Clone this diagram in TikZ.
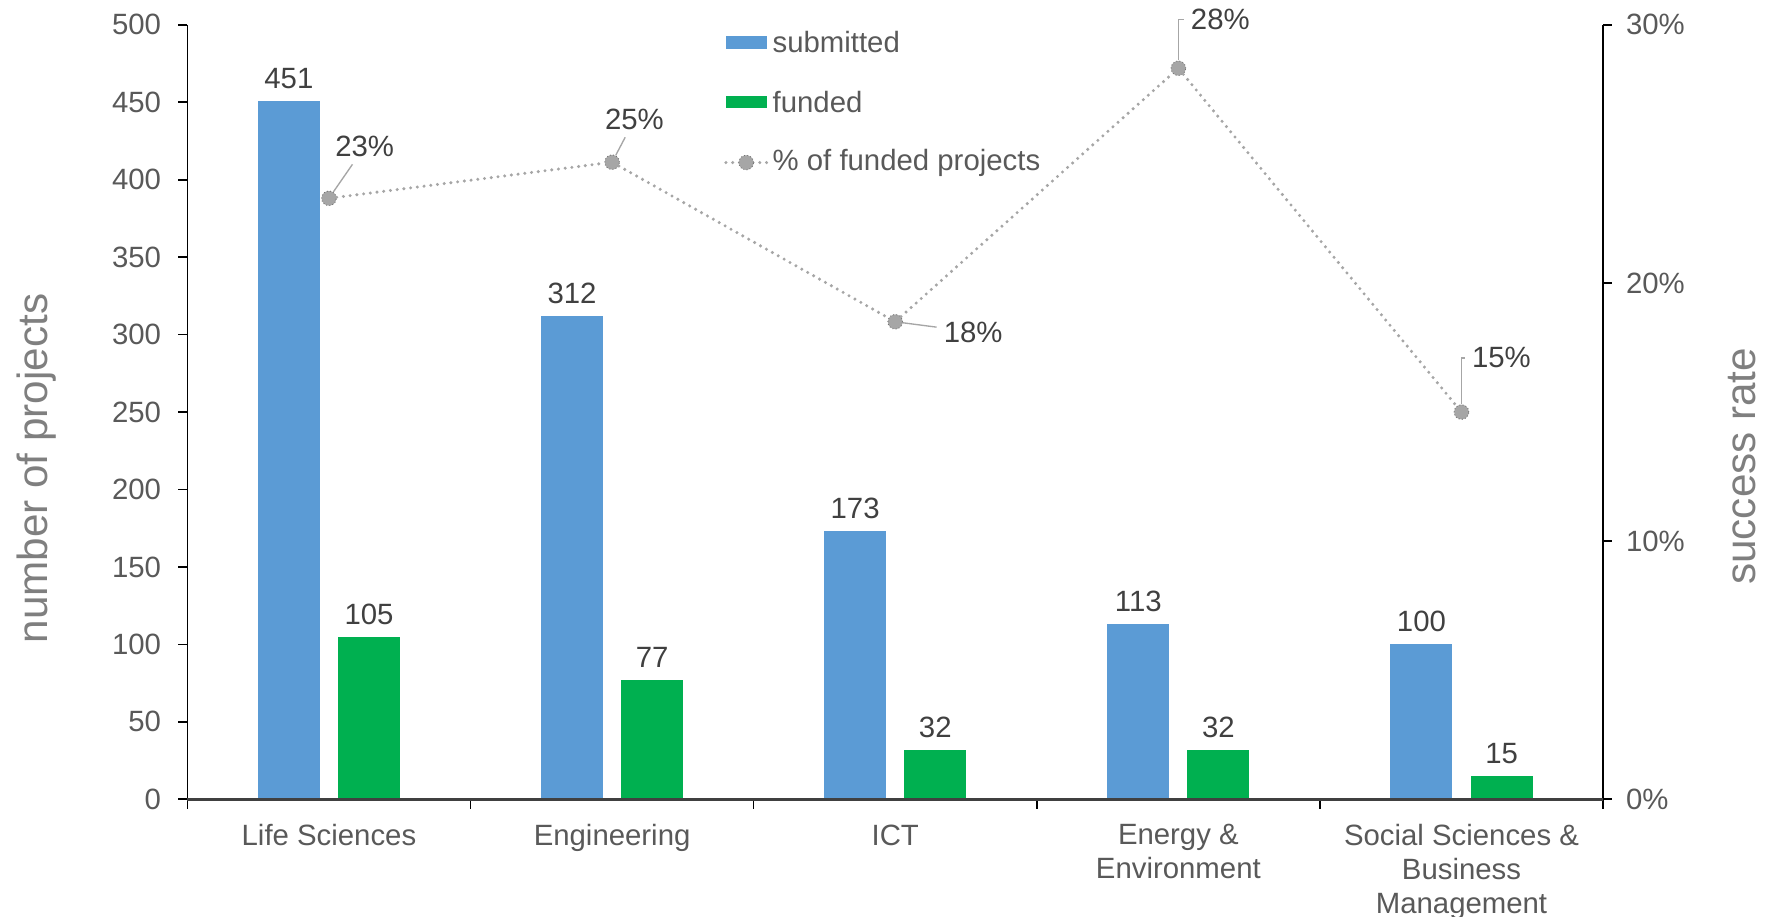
\documentclass[tikz,border=0pt]{standalone}
\usepackage{fontspec}
\setmainfont{Liberation Sans}
\usetikzlibrary{positioning,calc}
\definecolor{subblue}{HTML}{5B9BD5}
\definecolor{fundgreen}{HTML}{00B050}
\definecolor{ticktext}{HTML}{595959}
\definecolor{valtext}{HTML}{404040}
\definecolor{titletext}{HTML}{7F7F7F}
\definecolor{rategray}{HTML}{A6A6A6}

\begin{document}
\begin{tikzpicture}[x=0.5pt,y=-0.5pt,
    lbl/.style={font=\fontsize{13}{15}\selectfont,text=ticktext,inner sep=0pt},
    val/.style={lbl,text=valtext},
    ttl/.style={font=\fontsize{18.7}{22}\selectfont,text=titletext,inner sep=0pt,rotate=90},
    ratept/.style={circle,fill=rategray,draw=black!55,densely dotted,line width=0.4pt,minimum size=6.5pt,inner sep=0pt},
    rateline/.style={draw=rategray,line width=1.5pt,line cap=round,dash pattern=on 0pt off 3pt},
    leader/.style={draw=rategray,line width=0.6pt},
    swatch/.style={minimum width=18pt,minimum height=5.5pt,inner sep=0pt}]
    \useasboundingbox (0,0) rectangle (1567,812);

    % axes
    \draw[line width=0.7pt] (166,22) -- (166,708);
    \draw[line width=0.7pt] (1420,22) -- (1420,708);
    \foreach \v in {0,50,...,500}{
        \draw[line width=0.7pt] (158,{708-1.372*\v}) -- (166,{708-1.372*\v});
        \node[lbl,anchor=east] (yl\v) at (143,{708-1.372*\v}) {\v};
    }
    \foreach \r in {0,10,20,30}{
        \draw[line width=0.7pt] (1420,{708-22.867*\r}) -- (1428,{708-22.867*\r});
        \node[lbl,anchor=west] (rl\r) at (1440,{708-22.867*\r}) {\r\%};
    }
    \foreach \k in {0,...,5}{
        \draw[line width=0.7pt] ({166+250.8*\k},708) -- ({166+250.8*\k},717);
    }

    % bars
    \foreach \i/\s/\f/\catname in {1/451/105/Life Sciences,
        2/312/77/Engineering,
        3/173/32/ICT,
        4/113/32/{Energy \&\\Environment},
        5/100/15/{Social Sciences \&\\Business\\Management}}{
        \pgfmathsetmacro\c{166+250.8*(\i-0.5)}
        \pgfmathsetmacro\hs{708-1.372*\s}
        \pgfmathsetmacro\hf{708-1.372*\f}
        \pgfmathsetmacro\hr{708-(\f/\s)*2286.7}
        \fill[subblue] (\c-63,708) rectangle (\c-8,\hs);
        \fill[fundgreen] (\c+8,708) rectangle (\c+63,\hf);
        \node[val] (vs\i) at (\c-35.5,\hs-20) {\s};
        \node[val] (vf\i) at (\c+35.5,\hf-20) {\f};
        \node[lbl,align=center,anchor=north] (cat\i) at (\c,730) {\catname};
        \node[ratept] (r\i) at (\c,\hr) {};
    }
    \draw[line width=1.2pt,valtext] (166,708) -- (1420,708);

    % success rate
    \draw[rateline] (r1) -- (r2) -- (r3) -- (r4) -- (r5);
    \node[val,inner sep=3pt] (q1) at (323,130) {23\%};
    \node[val,inner sep=3pt] (q2) at (562,106) {25\%};
    \node[val,inner sep=3pt] (q3) at (862,294) {18\%};
    \node[val,inner sep=3pt] (q4) at (1081,17) {28\%};
    \node[val,inner sep=3pt] (q5) at (1330,317) {15\%};
    \draw[leader] (r1) -- (q1);
    \draw[leader] (r2) -- (q2);
    \draw[leader] (r3) -- (q3);
    \draw[leader] (r4) |- (q4);
    \draw[leader] (r5) |- (q5);

    % legend
    \node[swatch,fill=subblue] (ksub) at (661,37.5) {};
    \node[lbl,anchor=west] (tsub) at (684,37.5) {submitted};
    \node[swatch,fill=fundgreen] (kfund) at (661,90.5) {};
    \node[lbl,anchor=west] (tfund) at (684,90.5) {funded};
    \coordinate (kl) at (643,144);
    \coordinate (kr) at (679,144);
    \draw[rateline] (kl) -- (kr);
    \node[ratept] (kpt) at (661,144) {};
    \node[lbl,anchor=west] (trate) at (684,144) {\% of funded projects};

    % titles
    \node[ttl] (ytitle) at (32,415) {number of projects};
    \node[ttl] (rtitle) at (1543,413) {success rate};
\end{tikzpicture}
\end{document}
